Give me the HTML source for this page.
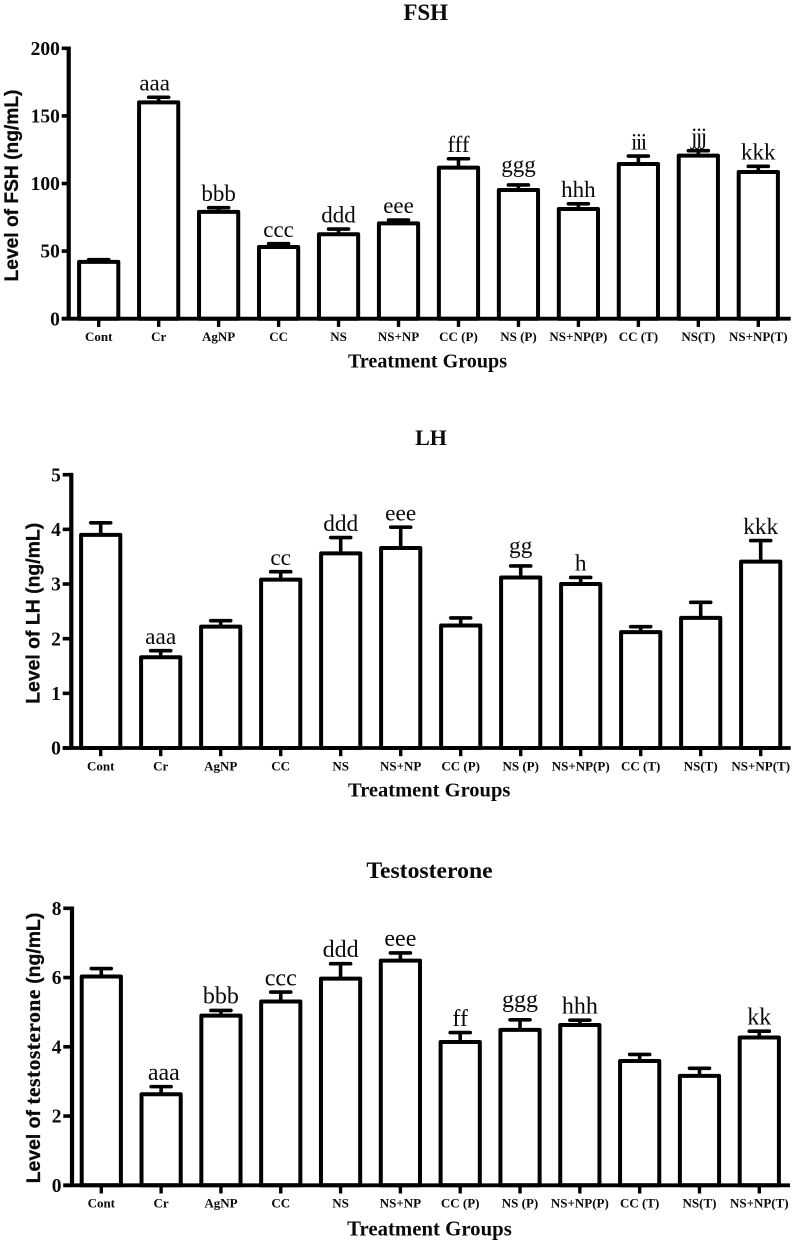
<!DOCTYPE html>
<html lang="en">
<head>
<meta charset="utf-8">
<title>FSH, LH and Testosterone levels by treatment group</title>
<style>
html,body{margin:0;padding:0;background:#fff;}
svg{display:block;}
text{fill:#0a0a0a;}
</style>
</head>
<body>
<svg id="figure" xmlns="http://www.w3.org/2000/svg" width="797" height="1247" viewBox="0 0 797 1247"></svg>
<script>
var categories = ["Cont","Cr","AgNP","CC","NS","NS+NP","CC (P)","NS (P)","NS+NP(P)","CC (T)","NS(T)","NS+NP(T)"];

var fshMeans = [42,160,79,53,62.5,70.5,111.7,95.2,81.1,114.4,120.6,108.5];
var fshErrors = [1.7,3.8,3.1,2.5,3.8,2.5,6.6,3.7,3.9,5.9,3.7,4.2];
var fshLetters = ["","aaa","bbb","ccc","ddd","eee","fff","ggg","hhh","iii","jjj","kkk"];
var fshTicks = [0,50,100,150,200];

var lhMeans = [3.9,1.66,2.22,3.08,3.56,3.66,2.24,3.12,3.0,2.12,2.38,3.41];
var lhErrors = [0.22,0.12,0.11,0.145,0.29,0.38,0.14,0.21,0.12,0.10,0.285,0.385];
var lhLetters = ["","aaa","","cc","ddd","eee","","gg","h","","","kkk"];
var lhTicks = [0,1,2,3,4,5];

var testosteroneMeans = [6.03,2.63,4.9,5.31,5.97,6.49,4.14,4.49,4.63,3.59,3.16,4.27];
var testosteroneErrors = [0.23,0.22,0.15,0.27,0.43,0.22,0.27,0.29,0.14,0.19,0.22,0.18];
var testosteroneLetters = ["","aaa","bbb","ccc","ddd","eee","ff","ggg","hhh","","","kk"];
var testosteroneTicks = [0,2,4,6,8];

var SVG_NS = "http://www.w3.org/2000/svg";
var figure = document.getElementById("figure");

function make(parent, tag, attrs, content) {
  var node = document.createElementNS(SVG_NS, tag);
  for (var key in attrs) { node.setAttribute(key, attrs[key]); }
  if (content !== undefined) { node.textContent = content; }
  parent.appendChild(node);
  return node;
}

function drawPanel(p) {
  var maxTick = p.ticks[p.ticks.length - 1];
  function yScale(v) { return p.zeroY - (v / maxTick) * (p.zeroY - p.topY); }
  function xScale(i) { return p.firstX + i * (p.lastX - p.firstX) / (p.categories.length - 1); }

  var g = make(figure, "g", {});
  
  

  var title = make(g, "text", {
    x: p.titleX, y: p.titleY, "text-anchor": "middle",
    "font-family": "'Liberation Serif', serif", "font-weight": "bold",
    "font-size": p.titleSize
  }, p.title);
  
  

  var yTitle = make(g, "text", {
    transform: "translate(" + p.yTitleX + "," + p.yTitleY + ") rotate(-90)",
    "text-anchor": "middle",
    "font-family": "'Liberation Sans', sans-serif", "font-weight": "bold",
    "font-size": p.yTitleSize, stroke: "#0a0a0a", "stroke-width": 0.3
  });
  
  
  make(yTitle, "tspan", {}, p.yTitleStart);
  if (p.yTitleSerif) {
    make(yTitle, "tspan", { "font-family": "'Liberation Serif', serif", "font-size": 21.5, "letter-spacing": "0.5" }, p.yTitleSerif);
  }
  make(yTitle, "tspan", {}, p.yTitleEnd);

  var xTitle = make(g, "text", {
    x: p.xTitleX, y: p.xTitleY, "text-anchor": "middle",
    "font-family": "'Liberation Serif', serif", "font-weight": "bold",
    "font-size": p.xTitleSize
  }, "Treatment Groups");
  
  

  p.ticks.forEach(function (t) {
    var ty = yScale(t);
    var tick = make(g, "line", { x1: p.axisStart, x2: p.axisX, y1: ty, y2: ty, stroke: "#000", "stroke-width": 3.6 });
    
    
    var label = make(g, "text", {
      x: p.axisStart - 1.8, y: ty + 6.6, "text-anchor": "end",
      "font-family": "'Liberation Serif', serif", "font-weight": "bold", "font-size": 19.5
    }, String(t));
    
    
  });

  p.categories.forEach(function (name, i) {
    var cx = xScale(i);
    var mean = p.means[i];
    var err = p.errors[i];
    var capY = yScale(mean + err);
    var barY = yScale(mean);

    var xTick = make(g, "line", { x1: cx, x2: cx, y1: p.zeroY, y2: p.zeroY + 8.2, stroke: "#000", "stroke-width": 3.4 });
    
    

    var stem = make(g, "line", { x1: cx, x2: cx, y1: barY, y2: capY, stroke: "#000", "stroke-width": 3.6 });
    
    

    var cap = make(g, "line", { x1: cx - 10, x2: cx + 10, y1: capY, y2: capY, stroke: "#000", "stroke-width": 3.6, "stroke-linecap": "round" });
    
    

    var bar = make(g, "rect", {
      x: cx - 19.6, y: barY, width: 39.2, height: p.zeroY - barY,
      fill: "#fff", stroke: "#000", "stroke-width": 4, "stroke-linejoin": "round"
    });
    
    

    var catLabel = make(g, "text", {
      x: cx, y: p.zeroY + 22.3, "text-anchor": "middle",
      "font-family": "'Liberation Serif', serif", "font-weight": "bold", "font-size": 13
    }, name);
    
    

    var letters = p.letters[i];
    if (letters) {
      var first = letters.charAt(0);
      var narrow = first === "i" || first === "j";
      var lift = first === "g" ? 13 : 6.8;
      var nudge = i === 1 ? p.crNudge : 0;
      var sig = make(g, "text", {
        x: cx + nudge, y: capY - lift, "text-anchor": "middle",
        "font-family": "'Liberation Serif', serif",
        "font-size": p.letterSize,
        "letter-spacing": narrow ? "-1.5" : "0"
      }, letters);
      
      
    }
  });

  var yAxis = make(g, "line", { x1: p.axisX, x2: p.axisX, y1: p.topY - 1.8, y2: p.zeroY, stroke: "#000", "stroke-width": 4.2 });
  
  

  var xAxis = make(g, "line", { x1: p.axisStart, x2: p.axisEnd, y1: p.zeroY, y2: p.zeroY, stroke: "#000", "stroke-width": 3.8 });
  
  
}

drawPanel({
  key: "fsh", title: "FSH", categories: categories, means: fshMeans, errors: fshErrors, letters: fshLetters, ticks: fshTicks,
  topY: 48.3, zeroY: 318.7, axisX: 68.7, axisStart: 61.7, axisEnd: 790.7, firstX: 98.7, lastX: 758.3,
  titleX: 425.7, titleY: 20, titleSize: 23,
  yTitleX: 18, yTitleY: 185.5, yTitleSize: 19.2, yTitleStart: "Level of FSH (ng/mL)", yTitleSerif: "", yTitleEnd: "",
  xTitleX: 427.5, xTitleY: 367.3, xTitleSize: 20.1, letterSize: 23, crNudge: -4
});

drawPanel({
  key: "lh", title: "LH", categories: categories, means: lhMeans, errors: lhErrors, letters: lhLetters, ticks: lhTicks,
  topY: 474.7, zeroY: 748, axisX: 71.3, axisStart: 62.7, axisEnd: 790.7, firstX: 100.7, lastX: 760.7,
  titleX: 431, titleY: 445, titleSize: 22,
  yTitleX: 39.5, yTitleY: 613.3, yTitleSize: 19.4, yTitleStart: "Level of LH (ng/mL)", yTitleSerif: "", yTitleEnd: "",
  xTitleX: 429.2, xTitleY: 796.7, xTitleSize: 20.5, letterSize: 23.3, crNudge: 0
});

drawPanel({
  key: "testosterone", title: "Testosterone", categories: categories, means: testosteroneMeans, errors: testosteroneErrors, letters: testosteroneLetters, ticks: testosteroneTicks,
  topY: 908.3, zeroY: 1185.3, axisX: 72, axisStart: 63.3, axisEnd: 790, firstX: 101.3, lastX: 759.3,
  titleX: 429.5, titleY: 878, titleSize: 23.7,
  yTitleX: 40, yTitleY: 1048, yTitleSize: 19.4, yTitleStart: "Level of ", yTitleSerif: "testosterone", yTitleEnd: " (ng/mL)",
  xTitleX: 429.5, xTitleY: 1235.3, xTitleSize: 20.8, letterSize: 24, crNudge: 2.7
});
</script>
</body>
</html>
